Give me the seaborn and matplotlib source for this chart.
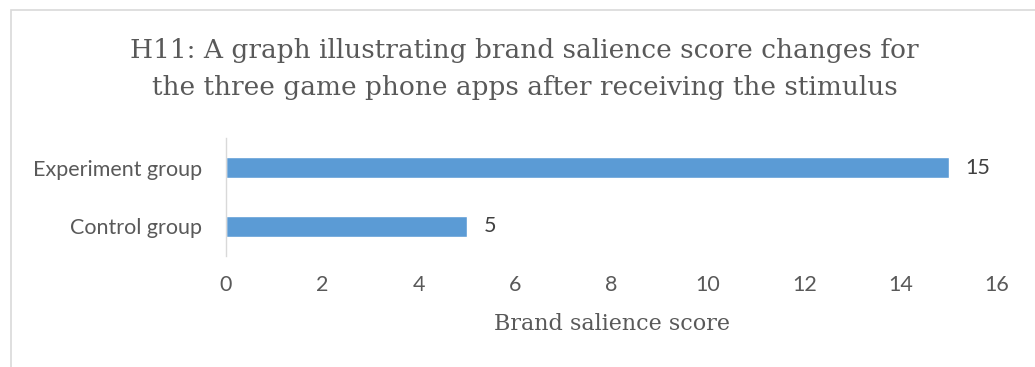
import matplotlib
matplotlib.use("Agg")
import matplotlib.pyplot as plt
import seaborn as sns
import pandas as pd
from matplotlib.patches import Rectangle

categories = ["Experiment group", "Control group"]
scores = [15, 5]
x_ticks = [0, 2, 4, 6, 8, 10, 12, 14, 16]
title = "H11: A graph illustrating brand salience score changes for\nthe three game phone apps after receiving the stimulus"
xlabel = "Brand salience score"

sns.set_theme(style="white")
plt.rcParams['font.family'] = ['Lato', 'DejaVu Sans']

W, H = 1035, 367
fig = plt.figure(figsize=(W / 100, H / 100), dpi=100)
ax = fig.add_axes([226 / W, 1 - 256 / H, (997 - 226) / W, (256 - 138) / H])

df = pd.DataFrame({"group": categories, "score": scores})
sns.barplot(data=df, x="score", y="group", orient="h", color="#5B9BD5",
            width=0.36, saturation=1, ax=ax)

ax.set_xlim(0, 16)
ax.set_xticks(x_ticks)
ax.set_xticklabels([str(t) for t in x_ticks])
ax.tick_params(axis="x", length=0, pad=14, labelsize=15.5, labelcolor="#595959")
ax.tick_params(axis="y", length=0, pad=17, labelsize=15.5, labelcolor="#595959")
ax.set_ylabel("")
ax.set_xlabel(xlabel, fontsize=16, color="#595959", family="DejaVu Serif", labelpad=13)
for s in ["top", "right", "bottom"]:
    ax.spines[s].set_visible(False)
ax.spines["left"].set_color("#D9D9D9")
ax.spines["left"].set_linewidth(1)

for p, v in zip(ax.patches, scores):
    ax.text(p.get_width() + 0.35, p.get_y() + p.get_height() / 2, str(v),
            va="center", ha="left", fontsize=15.5, color="#404040")

fig.text(0.507, 1 - 69 / H, title, ha="center", va="center", fontsize=19,
         color="#595959", family="DejaVu Serif", linespacing=1.6)

fig.patches.append(Rectangle((11 / W, -0.1), 1.2, 1 - 10 / H + 0.1,
                             transform=fig.transFigure, fill=False,
                             edgecolor="#D9D9D9", linewidth=1.2))

fig.savefig("out.png", dpi=100)
